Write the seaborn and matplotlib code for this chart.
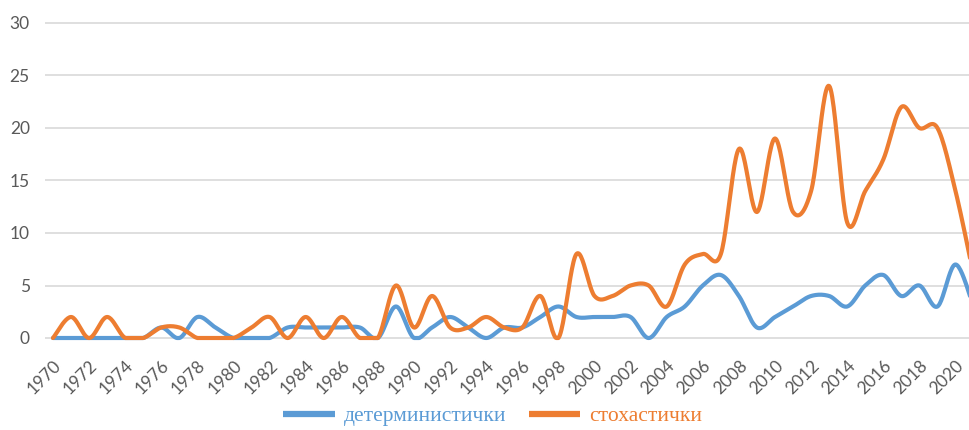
import numpy as np
import pandas as pd
import matplotlib
matplotlib.use("Agg")
import matplotlib.pyplot as plt
import seaborn as sns
from matplotlib.lines import Line2D

# Годишни бројеви на трудови по тип на модел
years = list(range(1970, 2022))
deterministic = [0, 0, 0, 0, 0, 0, 1, 0, 2, 1,
                 0, 0, 0, 1, 1, 1, 1, 1, 0, 3,
                 0, 1, 2, 1, 0, 1, 1, 2, 3, 2,
                 2, 2, 2, 0, 2, 3, 5, 6, 4, 1,
                 2, 3, 4, 4, 3, 5, 6, 4, 5, 3,
                 7, 3]
stochastic = [0, 2, 0, 2, 0, 0, 1, 1, 0, 0,
              0, 1, 2, 0, 2, 0, 2, 0, 0, 5,
              1, 4, 1, 1, 2, 1, 1, 4, 0, 8,
              4, 4, 5, 5, 3, 7, 8, 8, 18, 12,
              19, 12, 14, 24, 11, 14, 17, 22, 20, 20,
              14, 6]
series_names = ["детерминистички", "стохастички"]
series_colors = ["#5b9bd5", "#ed7d31"]
y_ticks = [0, 5, 10, 15, 20, 25, 30]
x_tick_years = list(range(1970, 2021, 2))


def smooth_curve(xs, ys, steps=24):
    """Cubic Bezier smoothing through every point (Catmull-Rom control points),
    kept inside the plot area (no dips below the zero line)."""
    p = np.column_stack([xs, ys]).astype(float)
    p_ext = np.vstack([p[0], p, p[-1]])
    out = []
    t = np.linspace(0, 1, steps, endpoint=False)[:, None]
    for i in range(len(p) - 1):
        p0, p1, p2, p3 = p_ext[i], p_ext[i + 1], p_ext[i + 2], p_ext[i + 3]
        c1 = p1 + (p2 - p0) / 6.0
        c2 = p2 - (p3 - p1) / 6.0
        seg = ((1 - t) ** 3) * p1 + 3 * ((1 - t) ** 2) * t * c1 \
            + 3 * (1 - t) * t ** 2 * c2 + t ** 3 * p2
        out.append(seg)
    out.append(p[-1][None, :])
    curve = np.vstack(out)
    curve[:, 1] = np.maximum(curve[:, 1], 0.0)
    return curve


frames = []
for name, vals in zip(series_names, [deterministic, stochastic]):
    c = smooth_curve(years, vals)
    frames.append(pd.DataFrame({"година": c[:, 0], "број": c[:, 1], "тип": name}))
df = pd.concat(frames, ignore_index=True)

sns.set_theme(style="white")
plt.rcParams["font.family"] = ["Lato", "DejaVu Sans"]

W, H = 970, 430
fig = plt.figure(figsize=(W / 100, H / 100), dpi=100)

# plot area in pixels: x 1970 -> 53, step 18.05 px; y 0 -> 338, 10.5 px per unit
px_step = 18.05
x_left_px, x_right_px = 45, 970
y_lo, y_hi = -0.5, 30.5
y_bottom_px = 338 + 0.5 * 10.5
y_top_px = 23 - 0.5 * 10.5
ax = fig.add_axes([x_left_px / W, 1 - y_bottom_px / H,
                   (x_right_px - x_left_px) / W, (y_bottom_px - y_top_px) / H])
ax.set_xlim(1970 - (53 - x_left_px) / px_step, 1970 + (x_right_px - 53) / px_step)
ax.set_ylim(y_lo, y_hi)

for yv in y_ticks:
    ax.axhline(yv, color="#d9d9d9", lw=1.2, zorder=0)

sns.lineplot(data=df, x="година", y="број", hue="тип", palette=series_colors,
             estimator=None, sort=False, lw=3.0, ax=ax, legend=False)
for ln in ax.lines:
    ln.set_solid_capstyle("round")
    ln.set_solid_joinstyle("round")

for s in ax.spines.values():
    s.set_visible(False)
ax.grid(False)
ax.set_xlabel("")
ax.set_ylabel("")
ax.set_yticks(y_ticks)
ax.set_yticklabels([str(v) for v in y_ticks])
ax.set_xticks(x_tick_years)
ax.set_xticklabels([str(v) for v in x_tick_years], rotation=45, ha="right",
                   va="top", rotation_mode="anchor")
ax.tick_params(axis="y", length=0, pad=11, labelsize=12.5, labelcolor="#595959")
ax.tick_params(axis="x", length=0, pad=10, labelsize=12.5, labelcolor="#595959")

handles = [Line2D([0], [0], color=c, lw=4.5, solid_capstyle="butt") for c in series_colors]
leg = fig.legend(handles, series_names, loc="center", bbox_to_anchor=(0.508, 0.032),
                 ncol=2, frameon=False, handlelength=2.4, handletextpad=0.4,
                 columnspacing=1.05, borderpad=0.0,
                 prop={"family": "Liberation Serif", "size": 15.5})
for txt, c in zip(leg.get_texts(), series_colors):
    txt.set_color(c)

fig.savefig("out.png", dpi=100)
